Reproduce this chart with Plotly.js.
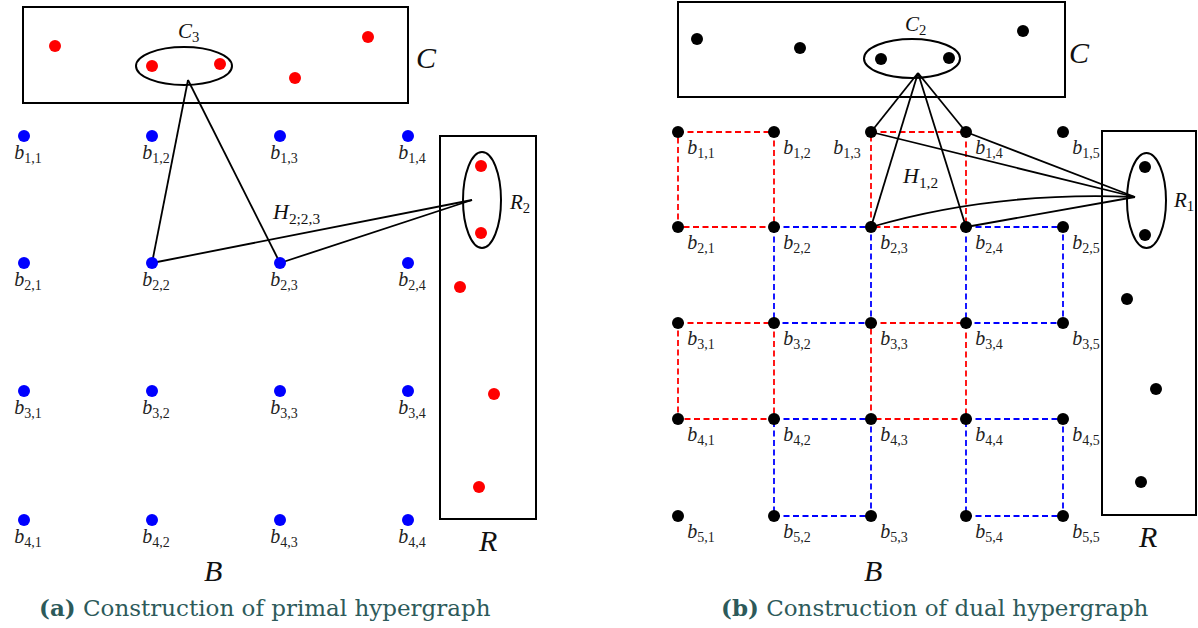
<!DOCTYPE html>
<html><head><meta charset="utf-8">
<script src="https://cdn.plot.ly/plotly-3.0.1.min.js"></script>
<style>html,body{margin:0;padding:0;background:#fff;}#chart{width:1198px;height:628px;}</style>
</head><body><div id="chart"></div>
<script>
// ---------- Panel (a): primal hypergraph ----------
const aGridX = [24, 152, 280, 408];
const aGridY = [136, 263, 391, 520];
const aCx = [55, 152, 220, 368, 295];
const aCy = [46, 66, 64, 37, 78];
const aRx = [481, 481, 460, 494, 479];
const aRy = [166, 233, 287, 394, 487];
const aBoxC = [23, 7, 408, 103];
const aBoxR = [440, 136, 536, 519];
const aEllC3 = [136, 47, 232, 85];
const aEllR2 = [463, 152, 501, 248];
const aHubC = [188, 80];
const aHubR = [472, 200];
const aEdgeNodes = [[2, 2], [2, 3]];

// ---------- Panel (b): dual hypergraph ----------
const bGridX = [678, 774, 871, 966, 1063];
const bGridY = [132, 227, 323, 419, 516];
const bCx = [697, 800, 881, 949, 1023];
const bCy = [39, 48, 59, 58, 31];
const bRx = [1145, 1145, 1127, 1156, 1141];
const bRy = [167, 235, 299, 389, 482];
const bBoxC = [678, 2, 1065, 97];
const bBoxR = [1102, 131, 1196, 515];
const bEllC2 = [864, 39, 960, 78];
const bEllR1 = [1127, 153, 1166, 248];
const bHubC = [918, 73];
const bHubR = [1135, 197];
const bCNodes = [[1, 3], [2, 3], [2, 4], [1, 4]];
const bRNodes = [[1, 3], [1, 4], [2, 4]];
const bRCurved = [2, 3];
const bCurveCtrl = [995, 191];
const redCells = [[1, 1], [1, 3], [3, 1], [3, 3]];
const blueCells = [[2, 2], [2, 4], [4, 2], [4, 4]];

// ---------- Text ----------
const captionA = '<b>(a)</b> Construction of primal hypergraph';
const captionB = '<b>(b)</b> Construction of dual hypergraph';
const captionColor = '#2d5a5a';
const mathFont = 'Liberation Serif';
const captionFont = 'DejaVu Serif';

// ---------- build ----------
function gridPts(gx, gy) {
  const x = [], y = [], t = [], ij = [];
  gy.forEach((yy, i) => gx.forEach((xx, j) => {
    x.push(xx); y.push(yy);
    t.push('<i>b</i><sub>' + (i + 1) + ',' + (j + 1) + '</sub>');
    ij.push([i + 1, j + 1]);
  }));
  return {x, y, t, ij};
}
const aG = gridPts(aGridX, aGridY);
const bG = gridPts(bGridX, bGridY);

function cellPath(cells, gx, gy) {
  const x = [], y = [];
  cells.forEach(([r, c]) => {
    const x0 = gx[c - 1], x1 = gx[c], y0 = gy[r - 1], y1 = gy[r];
    x.push(x0, x1, x1, x0, x0, null);
    y.push(y0, y0, y1, y1, y0, null);
  });
  return {x, y};
}
const red = cellPath(redCells, bGridX, bGridY);
const blue = cellPath(blueCells, bGridX, bGridY);

const sx = [], sy = [];
function seg(p, q) { sx.push(p[0], q[0], null); sy.push(p[1], q[1], null); }
aEdgeNodes.forEach(([r, c]) => {
  const p = [aGridX[c - 1], aGridY[r - 1]];
  seg(aHubC, p); seg(aHubR, p);
});
bCNodes.forEach(([r, c]) => seg(bHubC, [bGridX[c - 1], bGridY[r - 1]]));
bRNodes.forEach(([r, c]) => seg(bHubR, [bGridX[c - 1], bGridY[r - 1]]));

const traces = [
  {x: red.x, y: red.y, mode: 'lines', line: {color: '#ff0000', width: 1.8, dash: '6px,3.5px'}, hoverinfo: 'skip'},
  {x: blue.x, y: blue.y, mode: 'lines', line: {color: '#0000ff', width: 1.8, dash: '6px,3.5px'}, hoverinfo: 'skip'},
  {x: sx, y: sy, mode: 'lines', line: {color: '#000', width: 1.8}, hoverinfo: 'skip'},
  {x: aG.x, y: aG.y, mode: 'markers', marker: {color: '#0000ff', size: 12}},
  {x: aCx, y: aCy, mode: 'markers', marker: {color: '#ff0000', size: 12}},
  {x: aRx, y: aRy, mode: 'markers', marker: {color: '#ff0000', size: 12}},
  {x: bG.x, y: bG.y, mode: 'markers', marker: {color: '#000', size: 12}},
  {x: bCx, y: bCy, mode: 'markers', marker: {color: '#000', size: 12}},
  {x: bRx, y: bRy, mode: 'markers', marker: {color: '#000', size: 12}},
  {x: aG.x.map(v => v + 4), y: aG.y.map(v => v + 18), mode: 'text', text: aG.t,
   textfont: {family: mathFont, size: 20, color: '#222'}, cliponaxis: false},
  {x: bG.x.map((v, k) => (bG.ij[k][0] === 1 && bG.ij[k][1] === 3) ? v - 24 : v + 23),
   y: bG.y.map(v => v + 17), mode: 'text', text: bG.t,
   textfont: {family: mathFont, size: 20, color: '#222'}, cliponaxis: false}
];

function rect(b) { return {type: 'rect', x0: b[0], y0: b[1], x1: b[2], y1: b[3], line: {color: '#000', width: 2}}; }
function ell(b) { return {type: 'circle', x0: b[0], y0: b[1], x1: b[2], y1: b[3], line: {color: '#000', width: 2}}; }
const p0 = [bGridX[bRCurved[1] - 1], bGridY[bRCurved[0] - 1]];
const shapes = [
  rect(aBoxC), rect(aBoxR), ell(aEllC3), ell(aEllR2),
  rect(bBoxC), rect(bBoxR), ell(bEllC2), ell(bEllR1),
  {type: 'path', path: 'M ' + p0[0] + ',' + p0[1] + ' Q ' + bCurveCtrl[0] + ',' + bCurveCtrl[1] + ' ' + bHubR[0] + ',' + bHubR[1],
   line: {color: '#000', width: 1.8}}
];

function ann(x, y, text, size, extra) {
  return Object.assign({x, y, text, showarrow: false, xanchor: 'center', yanchor: 'middle',
    font: {family: mathFont, size, color: '#111'}}, extra || {});
}
const annotations = [
  ann(188, 32, '<i>C</i><sub>3</sub>', 21),
  ann(519, 203, '<i>R</i><sub>2</sub>', 21),
  ann(296, 213, '<i>H</i><sub>2;2,3</sub>', 22),
  ann(426, 57, '<i>C</i>', 30),
  ann(487, 540, '<i>R</i>', 30),
  ann(213, 570, '<i>B</i>', 30),
  ann(915, 25, '<i>C</i><sub>2</sub>', 21),
  ann(1183, 201, '<i>R</i><sub>1</sub>', 21),
  ann(920, 177, '<i>H</i><sub>1,2</sub>', 22),
  ann(1079, 52, '<i>C</i>', 30),
  ann(1147, 536, '<i>R</i>', 30),
  ann(873, 570, '<i>B</i>', 30),
  ann(265, 607, captionA, 23, {font: {family: captionFont, size: 23, color: captionColor}}),
  ann(935, 607, captionB, 23, {font: {family: captionFont, size: 23, color: captionColor}})
];

const layout = {
  width: 1198, height: 628, margin: {l: 0, r: 0, t: 0, b: 0},
  paper_bgcolor: '#fff', plot_bgcolor: '#fff', showlegend: false,
  xaxis: {range: [0, 1198], visible: false, fixedrange: true},
  yaxis: {range: [628, 0], visible: false, fixedrange: true},
  shapes, annotations
};
Plotly.newPlot('chart', traces, layout, {staticPlot: true, displayModeBar: false});
</script></body></html>
